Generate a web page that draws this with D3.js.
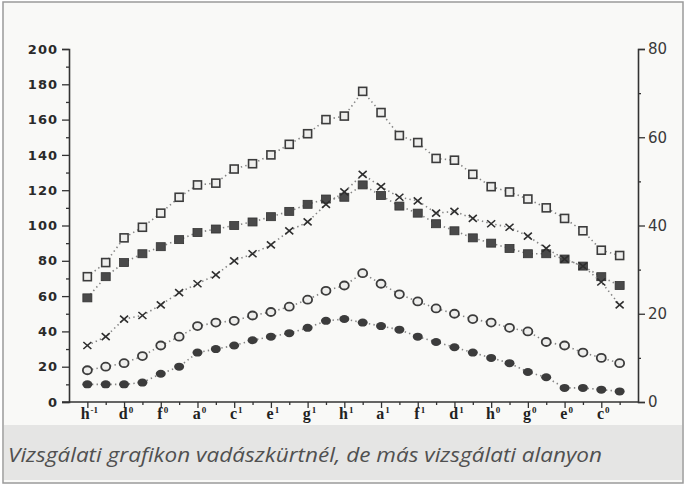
<!DOCTYPE html>
<html>
<head>
<meta charset="utf-8">
<script src="https://cdn.jsdelivr.net/npm/d3@7"></script>
<style>
  body { margin: 0; background: #fff; }
</style>
</head>
<body>
<div id="chart"></div>
<script>
// note names on the major ticks (base letter + octave mark)
const noteLetters = ["h", "d", "f", "a", "c", "e", "g", "h", "a", "f", "d", "h", "g", "e", "c"];
const noteMarks = ["-1", "0", "0", "0", "1", "1", "1", "1", "1", "1", "1", "0", "0", "0", "0"];

const leftTicks = [0, 20, 40, 60, 80, 100, 120, 140, 160, 180, 200];
const rightTicks = [0, 20, 40, 60, 80];

const openSquares = [71, 79, 93, 99, 107, 116, 123, 124, 132, 135, 140, 146, 152, 160, 162,
  176, 164, 151, 147, 138, 137, 129, 122, 119, 115, 110, 104, 97, 86, 83];
const filledSquares = [59, 71, 79, 84, 88, 92, 96, 98, 100, 102, 105, 108, 112, 115, 116,
  123, 117, 111, 107, 101, 97, 93, 90, 87, 84, 84, 81, 77, 71, 66];
const crosses = [32, 37, 47, 49, 55, 62, 67, 72, 80, 84, 89, 97, 102, 112, 119,
  129, 122, 116, 114, 107, 108, 104, 101, 99, 94, 87, 81, 77, 68, 55];
const openCircles = [18, 20, 22, 26, 32, 37, 43, 45, 46, 49, 51, 54, 58, 63, 66,
  73, 67, 61, 57, 53, 50, 47, 45, 42, 40, 34, 32, 28, 25, 22];
const filledCircles = [10, 10, 10, 11, 16, 20, 28, 30, 32, 35, 37, 39, 42, 46, 47,
  45, 43, 41, 37, 34, 31, 28, 25, 22, 17, 14, 8, 8, 7, 6];

const caption = "Vizsgálati grafikon vadászkürtnél, de más vizsgálati alanyon";

const width = 689;
const height = 486;

const svg = d3.select("#chart").append("svg")
  .attr("width", width)
  .attr("height", height)
  .attr("viewBox", [0, 0, width, height]);

// paper + frame
svg.append("rect")
  .attr("x", 3).attr("y", 2)
  .attr("width", 680).attr("height", 481)
  .attr("fill", "#f9f9f7")
  .attr("stroke", "#9a9a9a")
  .attr("stroke-width", 1.5);

// caption band
svg.append("rect")
  .attr("x", 4).attr("y", 425)
  .attr("width", 678).attr("height", 55)
  .attr("fill", "#e5e5e4");

svg.append("text")
  .attr("x", 8)
  .attr("y", 462)
  .attr("font-family", "'Open Sans', 'DejaVu Sans', sans-serif")
  .attr("font-style", "italic")
  .attr("font-size", 20)
  .attr("fill", "#505050")
  .attr("textLength", 594)
  .attr("lengthAdjust", "spacingAndGlyphs")
  .text(caption);

const x = d3.scaleLinear().domain([-1, 30]).range([69, 638]);
const y = d3.scaleLinear().domain([0, 200]).range([402, 49]);
const yRight = d3.scaleLinear().domain([0, 80]).range([402, 49]);

// left axis
const gLeft = svg.append("g")
  .attr("transform", `translate(${x(-1)},0)`)
  .call(d3.axisLeft(y).tickValues(leftTicks).tickSize(7).tickPadding(4));
gLeft.selectAll("text")
  .attr("font-family", "'DejaVu Sans', sans-serif")
  .attr("font-weight", "bold")
  .attr("font-size", 13)
  .attr("letter-spacing", 1)
  .attr("fill", "#2a2a2a");
svg.append("g")
  .attr("transform", `translate(${x(-1)},0)`)
  .call(d3.axisLeft(y).tickValues(d3.range(10, 200, 20)).tickSize(3).tickFormat(""))
  .call(g => g.select(".domain").remove());

// right axis
const gRight = svg.append("g")
  .attr("transform", `translate(${x(30)},0)`)
  .call(d3.axisRight(yRight).tickValues(rightTicks).tickSize(7).tickPadding(3));
gRight.selectAll("text")
  .attr("font-family", "'DejaVu Sans', sans-serif")
  .attr("font-size", 15)
  .attr("fill", "#3a3a3a");
svg.append("g")
  .attr("transform", `translate(${x(30)},0)`)
  .call(d3.axisRight(yRight).tickValues(d3.range(10, 80, 20)).tickSize(3).tickFormat(""))
  .call(g => g.select(".domain").remove());

// bottom axis
const majorIdx = d3.range(0, 29, 2);
svg.append("g")
  .attr("transform", `translate(0,${y(0)})`)
  .call(d3.axisBottom(x).tickValues(majorIdx).tickSize(6).tickFormat(""))
  .call(g => g.select(".domain").attr("d", `M${x(-1) - 7},0H${x(30)}`));
svg.append("g")
  .attr("transform", `translate(0,${y(0)})`)
  .call(d3.axisBottom(x).tickValues(d3.range(1, 30, 2)).tickSize(3).tickFormat(""))
  .call(g => g.select(".domain").remove());

svg.selectAll(".tick line").attr("stroke", "#333").attr("stroke-width", 1.3);
svg.selectAll(".domain").attr("stroke", "#333").attr("stroke-width", 1.6);

const noteLabels = svg.append("g")
  .attr("font-family", "'Liberation Serif', serif")
  .attr("font-weight", "bold")
  .attr("fill", "#222")
  .selectAll("text")
  .data(majorIdx)
  .join("text")
  .attr("x", d => x(d) + 2)
  .attr("y", 419)
  .attr("text-anchor", "middle")
  .attr("font-size", 16);
noteLabels.append("tspan").text((d, i) => noteLetters[i]);
noteLabels.append("tspan")
  .attr("font-size", 9)
  .attr("dx", 1)
  .attr("dy", -6)
  .text((d, i) => noteMarks[i]);

// series
const series = [
  { values: openSquares, shape: "openSquare" },
  { values: filledSquares, shape: "filledSquare" },
  { values: crosses, shape: "cross" },
  { values: openCircles, shape: "openCircle" },
  { values: filledCircles, shape: "filledCircle" }
];

const line = d3.line()
  .x((d, i) => x(i))
  .y(d => y(d));

series.forEach(s => {
  svg.append("path")
    .attr("d", line(s.values))
    .attr("fill", "none")
    .attr("stroke", "#858585")
    .attr("stroke-width", 1.6)
    .attr("stroke-dasharray", "1.4,3.2");

  const g = svg.append("g");
  const pts = g.selectAll("g")
    .data(s.values)
    .join("g")
    .attr("transform", (d, i) => `translate(${x(i)},${y(d)})`);

  if (s.shape === "openSquare") {
    pts.append("rect")
      .attr("x", -4).attr("y", -4).attr("width", 8).attr("height", 8)
      .attr("fill", "#eeeeec").attr("stroke", "#3c3c3c").attr("stroke-width", 1.6);
  } else if (s.shape === "filledSquare") {
    pts.append("rect")
      .attr("x", -4.5).attr("y", -4).attr("width", 9).attr("height", 8)
      .attr("fill", "#4a4a4a").attr("stroke", "#333").attr("stroke-width", 0.8);
  } else if (s.shape === "cross") {
    pts.append("path")
      .attr("d", "M-4,-3.5L4,3.5M-4,3.5L4,-3.5")
      .attr("stroke", "#2e2e2e").attr("stroke-width", 1.6);
  } else if (s.shape === "openCircle") {
    pts.append("ellipse")
      .attr("rx", 4.5).attr("ry", 4)
      .attr("fill", "#eeeeec").attr("stroke", "#3c3c3c").attr("stroke-width", 1.8);
  } else {
    pts.append("ellipse")
      .attr("rx", 5).attr("ry", 4)
      .attr("fill", "#3c3c3c");
  }
});
</script>
</body>
</html>
